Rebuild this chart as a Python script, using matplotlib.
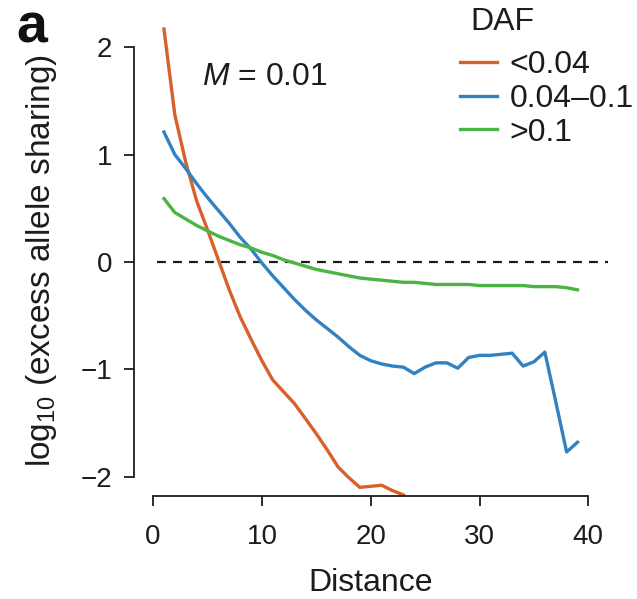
import matplotlib
matplotlib.use("Agg")
import matplotlib.pyplot as plt

plt.rcParams['font.family'] = ['Liberation Sans', 'DejaVu Sans']
plt.rcParams['mathtext.fontset'] = 'custom'
plt.rcParams['mathtext.rm'] = 'Liberation Sans'
plt.rcParams['mathtext.it'] = 'Liberation Sans:italic'

dist_low = list(range(1, 24))
daf_low = [2.17, 1.37, 0.93, 0.57, 0.30, 0.02, -0.26, -0.51, -0.72, -0.92,
           -1.10, -1.21, -1.32, -1.46, -1.60, -1.75, -1.91, -2.01, -2.10, -2.09,
           -2.08, -2.13, -2.17]

dist_mid = list(range(1, 40))
daf_mid = [1.21, 1.00, 0.87, 0.73, 0.60, 0.48, 0.36, 0.23, 0.12, -0.01,
           -0.13, -0.24, -0.35, -0.45, -0.54, -0.62, -0.70, -0.79, -0.87, -0.92,
           -0.95, -0.97, -0.98, -1.04, -0.98, -0.94, -0.94, -0.99, -0.89, -0.87,
           -0.87, -0.86, -0.85, -0.97, -0.93, -0.84, -1.30, -1.77, -1.68]

dist_high = list(range(1, 40))
daf_high = [0.59, 0.46, 0.40, 0.34, 0.29, 0.24, 0.20, 0.16, 0.13, 0.09,
            0.06, 0.02, -0.01, -0.04, -0.07, -0.09, -0.11, -0.13, -0.15, -0.16,
            -0.17, -0.18, -0.19, -0.19, -0.20, -0.21, -0.21, -0.21, -0.21, -0.22,
            -0.22, -0.22, -0.22, -0.22, -0.23, -0.23, -0.23, -0.24, -0.26]

labels = ["<0.04", "0.04\u20130.1", ">0.1"]
colors = ["#d9602a", "#3181c3", "#4bb444"]
ink = "#1c1c1c"

fig = plt.figure(figsize=(6.37, 5.99), dpi=100)
ax = fig.add_axes([0.2104, 0.172, 0.744, 0.785])

ax.hlines(0, 0.4, 42, colors=ink, linestyles=(0, (4, 3.2)), lw=1.6)
ax.plot(dist_low, daf_low, color=colors[0], lw=2.4, label=labels[0])
ax.plot(dist_mid, daf_mid, color=colors[1], lw=2.4, label=labels[1])
ax.plot(dist_high, daf_high, color=colors[2], lw=2.4, label=labels[2])

ax.set_xlim(-1.75, 41.8)
ax.set_ylim(-2.18, 2.2)
ax.set_xticks([0, 10, 20, 30, 40])
ax.set_yticks([-2, -1, 0, 1, 2])
ax.set_yticklabels(["\u22122", "\u22121", "0", "1", "2"])
ax.spines["top"].set_visible(False)
ax.spines["right"].set_visible(False)
ax.spines["left"].set_bounds(-2, 2)
ax.spines["bottom"].set_bounds(0, 40)
for s in ("left", "bottom"):
    ax.spines[s].set_linewidth(1.3)
    ax.spines[s].set_color(ink)
ax.tick_params(direction="out", length=7.5, width=1.3, color=ink,
               labelsize=20, labelcolor=ink)
ax.tick_params(axis="x", pad=13)
ax.tick_params(axis="y", pad=8)

ax.set_xlabel("Distance", fontsize=23, color=ink, labelpad=13)
ax.set_ylabel("log$_{10}$ (excess allele sharing)", fontsize=24,
              color=ink, labelpad=16)

ax.text(0.143, 0.89, "$\\mathit{M}$ = 0.01", transform=ax.transAxes,
        fontsize=23, color=ink, va="center", ha="left")

leg = ax.legend(loc="upper left",
                bbox_to_anchor=(460 / 637, 1 - 50 / 599),
                bbox_transform=fig.transFigure,
                frameon=False, fontsize=23,
                handlelength=1.15, handletextpad=0.4, labelspacing=0.12,
                borderaxespad=0, borderpad=0)
for t in leg.get_texts():
    t.set_color(ink)
fig.text(470 / 637, 1 - 22 / 599, "DAF", fontsize=23, color=ink,
         ha="left", va="center")

fig.text(0.025, 0.995, "a", fontsize=40, fontweight="bold", va="top", ha="left",
         color="#111111")

fig.savefig("out.png", dpi=100)
